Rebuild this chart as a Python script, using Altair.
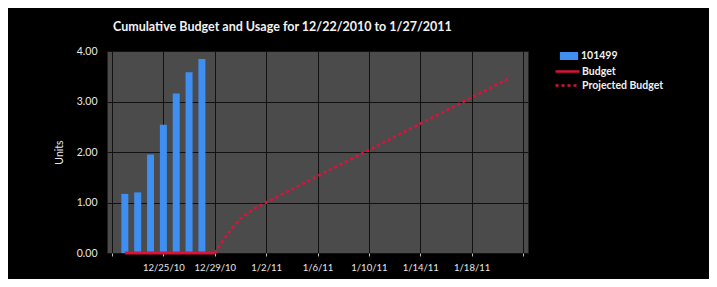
import altair as alt
import pandas as pd

# ---- data ----
usage_dates = ["2010-12-22", "2010-12-23", "2010-12-24", "2010-12-25",
               "2010-12-26", "2010-12-27", "2010-12-28"]
usage_values = [1.17, 1.20, 1.95, 2.54, 3.16, 3.58, 3.84]

budget_dates = ["2010-12-22", "2010-12-25", "2010-12-29"]
budget_values = [0.0, 0.0, 0.0]

proj_dates = ["2010-12-29", "2010-12-30", "2010-12-31", "2011-01-01", "2011-01-02",
              "2011-01-04", "2011-01-06", "2011-01-08", "2011-01-10", "2011-01-12",
              "2011-01-14", "2011-01-16", "2011-01-18", "2011-01-20", "2011-01-21"]
proj_values = [0.0, 0.38, 0.68, 0.87, 1.00,
               1.26, 1.52, 1.78, 2.04, 2.30,
               2.56, 2.82, 3.08, 3.34, 3.47]

x_ticks = ["2010-12-21", "2010-12-25", "2010-12-29", "2011-01-02", "2011-01-06",
           "2011-01-10", "2011-01-14", "2011-01-18", "2011-01-22"]
y_ticks = [0, 1, 2, 3, 4]

title_text = "Cumulative Budget and Usage for 12/22/2010 to 1/27/2011"
bar_series = "101499"
line_series = ["Budget", "Projected Budget"]

# ---- frames ----
bars_df = pd.DataFrame({"date": usage_dates, "value": usage_values, "series": bar_series})
budget_df = pd.DataFrame({"date": budget_dates, "value": budget_values, "series": line_series[0]})
proj_df = pd.DataFrame({"date": proj_dates, "value": proj_values, "series": line_series[1]})
lines_df = pd.concat([budget_df, proj_df], ignore_index=True)

FONT = "Lato"
x_dt = [alt.DateTime(year=int(d[:4]), month=int(d[5:7]), date=int(d[8:]), utc=True) for d in x_ticks]

x_enc = alt.X(
    "date:T",
    scale=alt.Scale(type="utc", domain=[x_dt[0], x_dt[-1]], nice=False),
    axis=alt.Axis(
        values=x_dt,
        format="%-m/%-d/%y",
        labelExpr="(datum.index == 0 || datum.index == 1) ? '' : datum.label",
        title=None,
        grid=True,
        gridColor="#111111",
        gridWidth=1,
        domain=False,
        ticks=True,
        tickColor="#bbbbbb",
        tickSize=3,
        labelColor="#e8e8e8",
        labelFont=FONT,
        labelFontSize=9.5,
        labelPadding=6,
        labelOverlap=False,
    ),
)

y_scale = alt.Scale(domain=[0, 4], nice=False)
y_axis = alt.Axis(
    values=y_ticks,
    format=".2f",
    title="Units",
    titleColor="#e8e8e8",
    titleFont=FONT,
    titleFontSize=10.5,
    titleFontWeight="normal",
    titlePadding=12,
    grid=True,
    gridColor="#111111",
    gridWidth=1,
    domain=False,
    ticks=False,
    labelColor="#e8e8e8",
    labelFont=FONT,
    labelFontSize=10.5,
    labelPadding=10,
)

RED = "#d81438"

bars = alt.Chart(bars_df).mark_bar(size=7, color="#3f8ef2").encode(
    x=x_enc,
    y=alt.Y("value:Q", scale=y_scale, axis=y_axis),
    fill=alt.Fill(
        "series:N",
        scale=alt.Scale(domain=[bar_series], range=["#3f8ef2"]),
        legend=alt.Legend(
            title=None, orient="none", legendX=456, legendY=-1,
            symbolType="M-1.6,-0.7H1.6V0.7H-1.6Z", symbolSize=130,
            symbolStrokeWidth=0,
            labelColor="#f0f0f0", labelFont=FONT, labelFontSize=10.5,
            labelFontWeight="bold", rowPadding=0, labelOffset=6,
        ),
    ),
)

lines = alt.Chart(lines_df).mark_line(color=RED, strokeWidth=2.8).encode(
    x="date:T",
    y="value:Q",
    strokeDash=alt.StrokeDash(
        "series:N",
        scale=alt.Scale(domain=line_series, range=[[1, 0], [3, 3]]),
        legend=alt.Legend(
            title=None, orient="none", legendX=452, legendY=12,
            symbolType="M-1.7,0H1.7", symbolStrokeColor=RED,
            symbolStrokeWidth=2.5, symbolSize=200,
            labelColor="#f0f0f0", labelFont=FONT, labelFontSize=10.5,
            labelFontWeight="bold", rowPadding=0, labelOffset=6,
        ),
    ),
    detail="series:N",
)

chart = (
    alt.layer(bars, lines)
    .resolve_scale(strokeDash="independent", fill="independent")
    .properties(
        width=421,
        height=202,
        autosize=alt.AutoSizeParams(type="none"),
        padding={"left": 99, "top": 43, "right": 181, "bottom": 26},
        background="#000000",
        title=alt.TitleParams(
            title_text, anchor="start", frame="group", dx=6, offset=13,
            color="#f2f2f2", font=FONT, fontSize=12.5, fontWeight="bold",
        ),
    )
    .configure_view(fill="#4b4b4b", stroke="#222222")
)

chart.save("out.html", embed_options={"renderer": "svg", "actions": False})
